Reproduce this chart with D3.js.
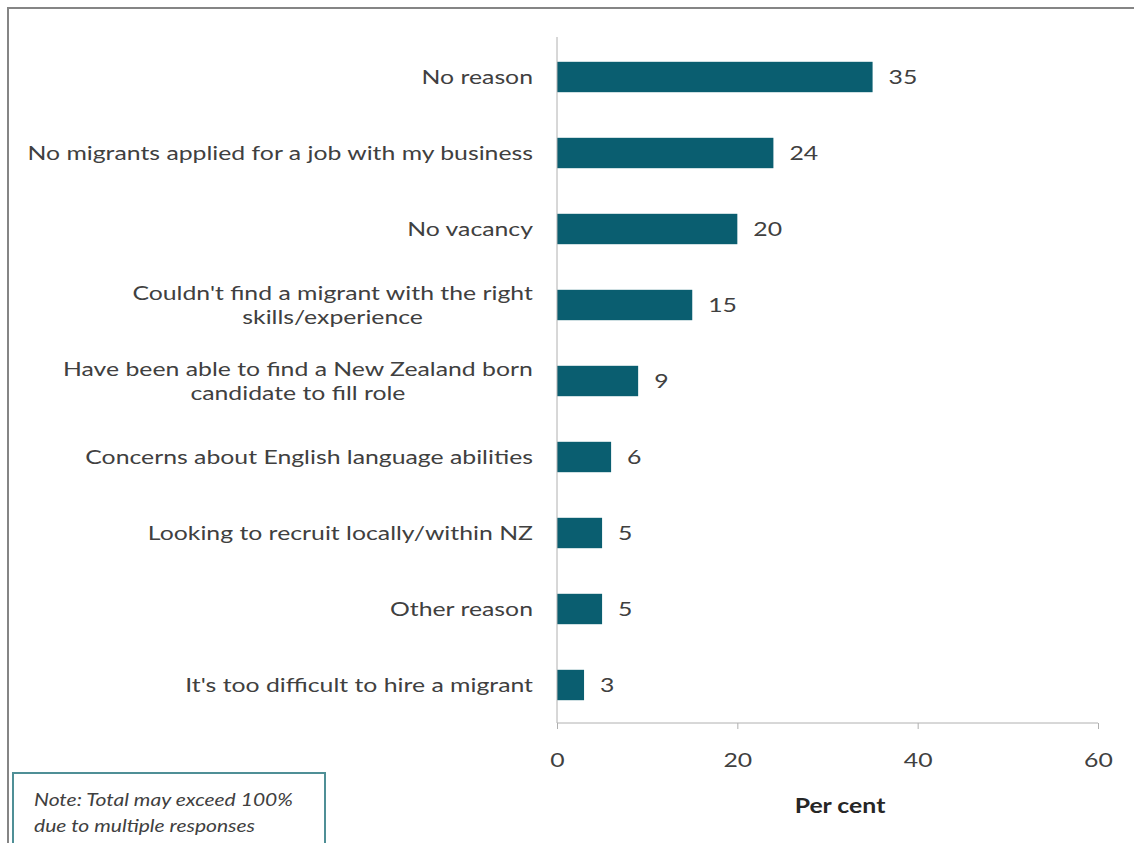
<!DOCTYPE html>
<html><head><meta charset="utf-8">
<script src="https://cdn.jsdelivr.net/npm/d3@7"></script>
<style>body{margin:0;background:#fff}svg{display:block}text{font-family:Lato,"Open Sans",sans-serif}</style>
</head><body>
<script>
const categories = [
  ["No reason"],
  ["No migrants applied for a job with my business"],
  ["No vacancy"],
  ["Couldn't find a migrant with the right", "skills/experience"],
  ["Have been able to find a New Zealand born", "candidate to fill role"],
  ["Concerns about English language abilities"],
  ["Looking to recruit locally/within NZ"],
  ["Other reason"],
  ["It's too difficult to hire a migrant"]
];
const values = [35, 24, 20, 15, 9, 6, 5, 5, 3];
const xTicks = [0, 20, 40, 60];
const axisTitle = "Per cent";
const noteLines = ["Note: Total may exceed 100%", "due to multiple responses"];

const W = 1134, H = 843;
const SX = 1.24; // horizontal stretch of the text, as in the reference
const svg = d3.select("body").append("svg").attr("width", W).attr("height", H);

function stretch(sel, ax) {
  sel.attr("transform", `matrix(${SX},0,0,1,${(1 - SX) * ax},0)`);
}

// frame
svg.append("rect").attr("x", 8).attr("y", 8).attr("width", W + 10).attr("height", H + 10)
  .attr("fill", "#fff").attr("stroke", "#858585").attr("stroke-width", 2);

const x0 = 557, x1 = 1098, yTop = 39, yBot = 723;
const x = d3.scaleLinear().domain([0, 60]).range([x0, x1]);
const y = d3.scaleBand().domain(d3.range(categories.length)).range([yTop, yBot]).paddingInner(0.6).paddingOuter(0.3);

// bars
svg.append("g").selectAll("rect").data(values).join("rect")
  .attr("x", x(0)).attr("y", (d, i) => y(i)).attr("width", d => x(d) - x(0)).attr("height", y.bandwidth())
  .attr("fill", "#0a5e70");

// value labels
svg.append("g").selectAll("text").data(values).join("text")
  .attr("x", d => x(d) + 16).attr("y", (d, i) => y(i) + y.bandwidth() / 2)
  .attr("dy", "0.35em").attr("font-size", 20).attr("fill", "#404040").text(d => d)
  .each(function (d) { stretch(d3.select(this), x(d) + 16); });

// x axis
const xAxis = d3.axisBottom(x).tickValues(xTicks).tickSize(6).tickPadding(24).tickFormat(d3.format("d"));
const gx = svg.append("g").attr("transform", `translate(0,${yBot})`).call(xAxis);
gx.select(".domain").attr("stroke", "#b0b0b0").attr("d", `M${x0},0H${x1}`);
gx.selectAll(".tick line").attr("stroke", "#b0b0b0");
gx.selectAll(".tick text").attr("font-size", 20).attr("fill", "#404040").attr("font-family", "Lato,'Open Sans',sans-serif")
  .each(function () { stretch(d3.select(this), 0); });

// y axis line
svg.append("line").attr("x1", x0).attr("x2", x0).attr("y1", yTop - 2).attr("y2", yBot)
  .attr("stroke", "#b0b0b0");

// category labels
const gl = svg.append("g");
const right = 533;
categories.forEach((lines, i) => {
  const cy = y(i) + y.bandwidth() / 2;
  const lh = 24;
  const multi = lines.length > 1;
  const t = gl.append("text").attr("text-anchor", multi ? "middle" : "end")
    .attr("font-size", 20).attr("fill", "#404040");
  lines.forEach((ln, k) => {
    t.append("tspan").attr("x", multi ? 0 : right).attr("y", cy + (k - (lines.length - 1) / 2) * lh)
      .attr("dy", "0.35em").text(ln);
  });
  if (multi) {
    const w = t.node().getBBox().width * SX;
    const c = right - w / 2;
    t.selectAll("tspan").attr("x", c);
    stretch(t, c);
  } else {
    stretch(t, right);
  }
});

// axis title
const at = svg.append("text").attr("x", 840).attr("y", 806).attr("dy", "0.35em").attr("text-anchor", "middle")
  .attr("font-size", 20).attr("font-weight", "bold").attr("fill", "#262626").text(axisTitle);
stretch(at, 840);

// note box
svg.append("rect").attr("x", 13).attr("y", 773).attr("width", 312).attr("height", 100)
  .attr("fill", "#fff").attr("stroke", "#4f8f96").attr("stroke-width", 2);
const nt = svg.append("text").attr("font-size", 17).attr("font-style", "italic").attr("fill", "#404040");
noteLines.forEach((ln, k) => nt.append("tspan").attr("x", 34).attr("y", 800 + k * 26).attr("dy", "0.35em").text(ln));
stretch(nt, 34);
</script>
</body></html>
